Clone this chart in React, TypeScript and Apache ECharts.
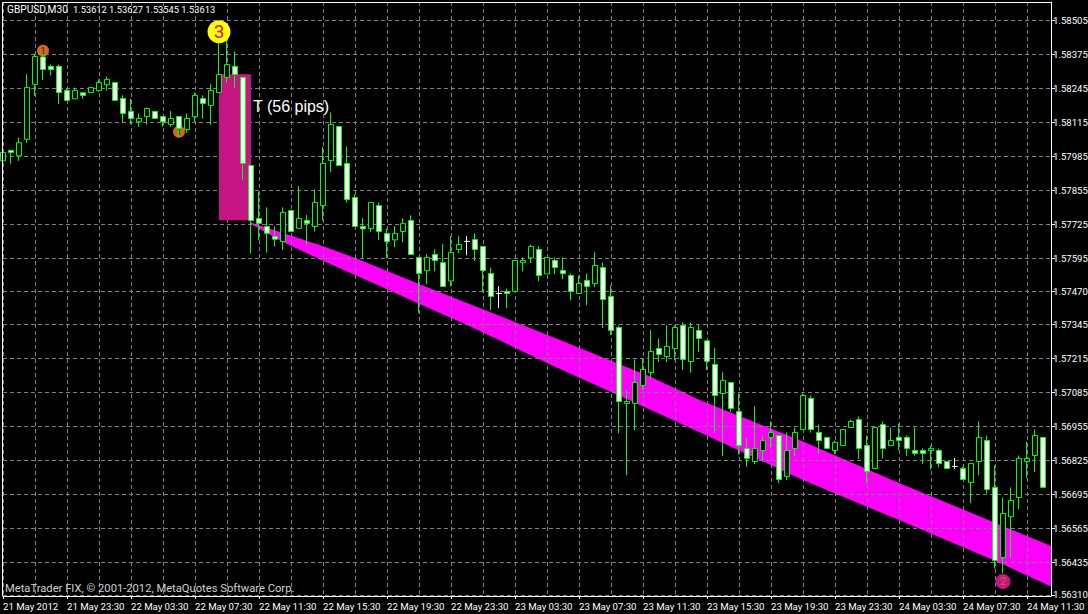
import React, { useEffect, useRef } from "react";
import * as echarts from "echarts";

const POINT = 0.00001;
const tickLabels = ["21 May 2012","21 May 23:30","22 May 03:30","22 May 07:30","22 May 11:30","22 May 15:30","22 May 19:30","22 May 23:30","23 May 03:30","23 May 07:30","23 May 11:30","23 May 15:30","23 May 19:30","23 May 23:30","24 May 03:30","24 May 07:30","24 May 11:30"];
const priceTicks = [1.58505,1.58375,1.58245,1.58115,1.57985,1.57855,1.57725,1.57595,1.5747,1.57345,1.57215,1.57085,1.56955,1.56825,1.56695,1.56565,1.56435,1.5631];

const opens = [
157969,158009,157988,158051,158261,158366,158330,158330,158238,158206,
158229,158230,158237,158260,158268,158207,158158,158118,158138,158158,
158138,158108,158138,158089,158138,158207,158181,158230,158288,158330,
158288,157951,157749,157718,157680,157661,157779,157711,157741,157718,
157798,157970,158100,157959,157829,157718,157710,157798,157691,157667,
157699,157741,157600,157549,157611,157580,157510,157630,157661,157668,
157642,157538,157462,157470,157470,157580,157598,157630,157537,157588,
157550,157531,157462,157512,157500,157561,157451,157332,157042,157042,
157110,157160,157252,157221,157252,157340,157202,157321,157281,157191,
157080,157122,157011,156870,156820,156862,156912,156919,156763,156870,
156942,157061,156931,156912,156862,156881,156950,156980,156881,156793,
156961,156881,156912,156912,156862,156862,156862,156862,156820,156801,
156793,156740,156820,156900,156721,156453,156609,156682,156820,156843,156912];
const closes = [
158001,158001,158038,158249,158368,158318,158318,158230,158200,158238,
158219,158249,158268,158280,158200,158150,158131,158131,158169,158131,
158118,158131,158093,158131,158219,158188,158238,158299,158337,158299,
157959,157741,157730,157692,157669,157772,157699,157749,157730,157810,
157959,158108,157951,157821,157718,157709,157810,157699,157661,157691,
157729,157611,157538,157600,157588,157489,157619,157649,157661,157630,
157550,157451,157462,157462,157588,157588,157642,157531,157600,157561,
157538,157470,157500,157489,157569,157439,157321,157049,157049,157122,
157172,157240,157229,157260,157332,157210,157332,157290,157203,157072,
157130,157023,156881,156832,156870,156900,156931,156751,156862,156931,
157072,156942,156900,156870,156893,156942,156973,156870,156782,156950,
156870,156900,156900,156870,156851,156851,156870,156812,156793,156801,
156751,156812,156912,156713,156442,156621,156671,156832,156832,156919,156721];
const lows = [
157950,157958,157969,158038,158217,158277,158296,158187,158200,158206,
158206,158230,158233,158237,158200,158117,158108,158099,158107,158131,
158099,158099,158058,158076,158118,158130,158107,158230,158267,158248,
157895,157616,157666,157618,157641,157628,157699,157711,157647,157699,
157741,157926,157951,157810,157718,157598,157698,157666,157596,157639,
157658,157611,157388,157498,157547,157489,157489,157616,157608,157586,
157466,157398,157406,157406,157470,157547,157578,157509,157537,157536,
157517,157436,157462,157417,157486,157330,157303,156928,156768,156940,
157095,157137,157200,157200,157207,157169,157159,157238,157169,156930,
156840,157009,156847,156800,156810,156819,156873,156738,156749,156840,
156942,156930,156848,156870,156848,156881,156950,156830,156736,156793,
156832,156881,156863,156840,156843,156810,156789,156798,156793,156792,
156751,156661,156768,156698,156411,156392,156452,156638,156756,156779,156721];
const highs = [
158029,158009,158058,158300,158379,158379,158337,158337,158246,158249,
158229,158249,158280,158291,158268,158220,158206,158150,158173,158158,
158138,158159,158138,158150,158230,158219,158262,158443,158433,158387,
158288,157951,157851,157791,157718,157791,157779,157872,157762,157860,
158023,158154,158100,158023,157841,157750,157810,157810,157710,157719,
157750,157761,157600,157612,157631,157650,157681,157681,157681,157692,
157642,157561,157490,157481,157588,157600,157649,157642,157600,157600,
157600,157538,157531,157538,157620,157580,157493,157340,157093,157210,
157214,157322,157290,157341,157341,157351,157351,157341,157281,157253,
157161,157122,157080,156912,157031,156919,156973,156919,156931,156950,
157080,157072,156961,156912,156900,156942,156980,156992,156919,156950,
156973,156950,156965,156919,156950,156870,156881,156870,156820,156833,
156800,156812,156973,156919,156805,156682,156721,156843,156896,156942,156912];

// magenta channel, read at a few bars
const bandBars = [31,35,40,44,48,52,58,69,81,87,100,112,124,131];
const bandTop = [157733,157693,157643,157598,157548,157498,157426,157292,157143,157056,156896,156738,156586,156497];
const bandBottom = [157727,157659,157587,157533,157478,157423,157342,157182,157017,156933,156749,156596,156441,156342];

// zone behind the big drop
const zoneBars = [27,31];
const zonePrices = [158300,157742];

// numbered markers: bar, price, text
const lowMarkers = [[5,158390,"1"],[22,158080,"1"]];
const endMarkers = [[125,156361,"2"]];
const topMarkers = [[27,158462,"3"]];

const barCount = 132;
const categories = Array.from({ length: barCount }, (_, i) => (i % 8 === 0 && tickLabels[i / 8]) || `bar ${i}`);
const candles = opens.map((o, i) => [o * POINT, closes[i] * POINT, lows[i] * POINT, highs[i] * POINT]);
const toScatter = (rows: any[]) => rows.map((r) => [r[0], r[1] * POINT, r[2]]);

const FONT = "Roboto";

export default function App() {
  const ref = useRef<HTMLDivElement>(null);
  useEffect(() => {
    document.body.style.margin = "0";
    document.body.style.background = "#000";
    const chart = echarts.init(ref.current!, undefined, { renderer: "svg" });
    chart.setOption({
      animation: false,
      backgroundColor: "#000000",
      grid: { left: 3, right: 37, top: 2, bottom: 18, outerBoundsMode: "none" },
      xAxis: {
        type: "category",
        data: categories,
        boundaryGap: false,
        min: 0,
        max: 131,
        axisLine: { lineStyle: { color: "#ffffff", width: 1 } },
        axisTick: { alignWithLabel: true, length: 3, interval: (i: number) => i % 8 === 0, lineStyle: { color: "#ffffff" } },
        axisLabel: {
          interval: (i: number) => i % 8 === 0,
          color: "#ffffff", fontFamily: FONT, fontSize: 9.6, align: "left", margin: 5,
          hideOverlap: false, showMaxLabel: true, showMinLabel: true,
        },
        splitLine: { show: true, interval: (i: number) => i % 4 === 0, lineStyle: { color: "#808080", type: [4, 3], width: 1 } },
      },
      yAxis: {
        type: "value",
        position: "right",
        min: 1.56306,
        max: 1.58576,
        axisLine: { show: true, lineStyle: { color: "#ffffff", width: 1 } },
        axisTick: { show: true, length: 4, customValues: priceTicks, lineStyle: { color: "#ffffff" } },
        axisLabel: {
          customValues: priceTicks,
          color: "#ffffff", fontFamily: FONT, fontSize: 9.6, margin: 2, align: "left",
          formatter: (v: number) => v.toFixed(5),
        },
        splitLine: { show: true, lineStyle: { color: "#808080", type: [4, 3], width: 1 } },
      },
      series: [
        {
          type: "custom",
          z: -1,
          silent: true,
          data: [[0, priceTicks[0]]],
          renderItem: (_: any, api: any) => ({
            type: "polygon",
            shape: {
              points: [
                ...bandBars.map((b, i) => api.coord([b, bandTop[i] * POINT])),
                ...bandBars.map((b, i) => api.coord([b, bandBottom[i] * POINT])).reverse(),
              ],
            },
            style: { fill: "#FF00FF" },
          }),
        },
        {
          type: "custom",
          z: 1,
          silent: true,
          data: [[zoneBars[0], zonePrices[0] * POINT]],
          renderItem: (_: any, api: any) => {
            const a = api.coord([zoneBars[0], zonePrices[0] * POINT]);
            const b = api.coord([zoneBars[1], zonePrices[1] * POINT]);
            return { type: "rect", shape: { x: a[0], y: a[1], width: b[0] - a[0], height: b[1] - a[1] }, style: { fill: "#C71585" } };
          },
        },
        {
          type: "scatter",
          z: 1,
          silent: true,
          symbolSize: 12,
          itemStyle: { color: "#D2691E", opacity: 1 },
          label: { show: true, position: "inside", color: "#1a1a1a", fontFamily: FONT, fontSize: 9, formatter: (p: any) => p.value[2] },
          data: toScatter(lowMarkers),
        },
        {
          type: "scatter",
          z: 1,
          silent: true,
          symbolSize: 15,
          itemStyle: { color: "#C71585", opacity: 1 },
          label: { show: true, position: "inside", color: "#D2691E", fontFamily: FONT, fontSize: 11, formatter: (p: any) => p.value[2] },
          data: toScatter(endMarkers),
        },
        {
          type: "candlestick",
          z: 3,
          barWidth: 5,
          clip: true,
          itemStyle: {
            color: "#000000", color0: "#ffffff",
            borderColor: "#00FF00", borderColor0: "#00FF00", borderColorDoji: "#ffffff", borderWidth: 1,
          },
          data: candles,
        },
        {
          type: "scatter",
          z: 5,
          silent: true,
          symbolSize: 23,
          itemStyle: { color: "#FFFF00", opacity: 1 },
          label: { show: true, position: "inside", color: "#C71585", fontFamily: FONT, fontSize: 19, formatter: (p: any) => p.value[2] },
          data: toScatter(topMarkers),
        },
      ],
      graphic: [
        { type: "polyline", silent: true, shape: { points: [[2.5, 596], [2.5, 2.5], [1051, 2.5]] }, style: { stroke: "#ffffff", fill: "none", lineWidth: 1 }, z: 10 },
        { type: "text", silent: true, x: 7, y: 4, style: { text: "GBPUSD,M30", fill: "#ffffff", font: `10.2px "${FONT}"` }, z: 10 },
        { type: "text", silent: true, x: 73, y: 5, style: { text: "1.53612 1.53627 1.53545 1.53613", fill: "#ffffff", font: `9.3px "${FONT}"` }, z: 10 },
        { type: "text", silent: true, x: 253, y: 98, style: { text: "T (56 pips)", fill: "#ffffff", font: `16px "Liberation Sans"` }, z: 10 },
        { type: "text", silent: true, x: 5, y: 583, style: { text: "MetaTrader FIX, © 2001-2012, MetaQuotes Software Corp.", fill: "#d0d0d0", font: `11.2px "${FONT}"` }, z: 10 },
      ],
    });
    return () => chart.dispose();
  }, []);
  return <div ref={ref} style={{ position: "fixed", left: 0, top: 0, width: 1088, height: 614 }} />;
}
